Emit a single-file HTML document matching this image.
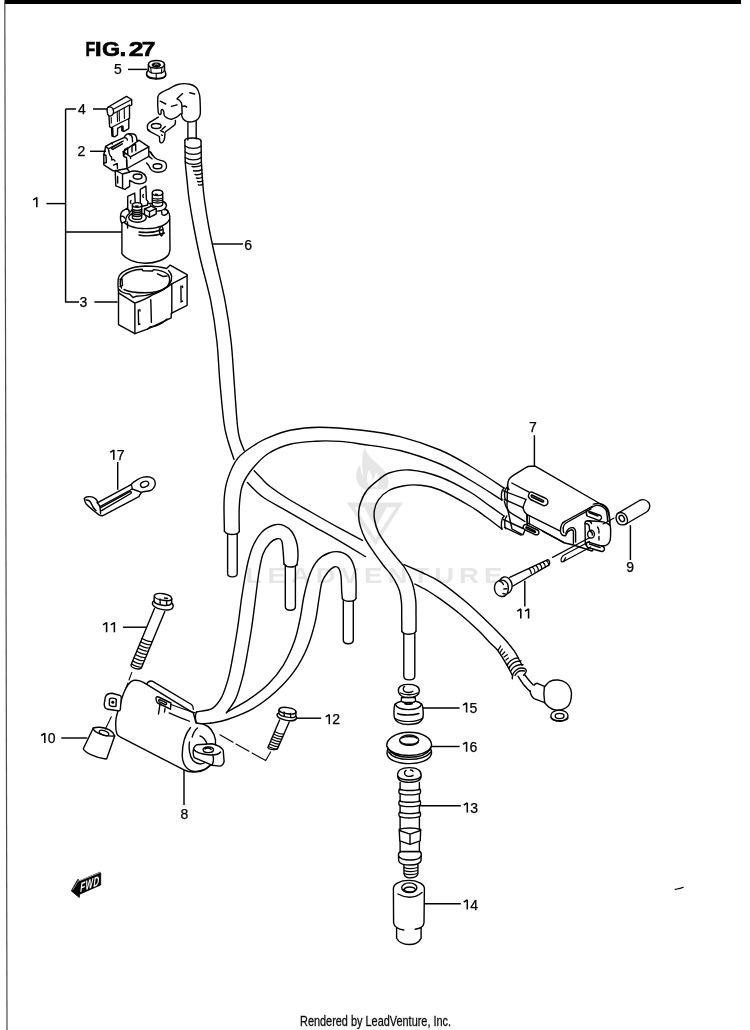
<!DOCTYPE html>
<html><head><meta charset="utf-8">
<style>
html,body{margin:0;padding:0;background:#fff;}
body{width:750px;height:1030px;overflow:hidden;position:relative;}
svg{position:absolute;left:0;top:0;will-change:transform;}
.l{fill:none;stroke:#000;stroke-width:1.4;stroke-linecap:round;stroke-linejoin:round;}
.w{fill:#fff;stroke:#000;stroke-width:1.4;stroke-linejoin:round;stroke-linecap:round;}
.b{fill:#000;stroke:#000;stroke-width:0.6;stroke-linejoin:round;}
.t{font-family:"Liberation Sans",sans-serif;font-size:14px;fill:#000;stroke:#000;stroke-width:0.25;}
.ld{fill:none;stroke:#000;stroke-width:1.45;}
</style></head><body>
<svg width="750" height="1030" viewBox="0 0 750 1030">
<rect x="4.5" y="0" width="736.5" height="4" fill="#000"/>
<line x1="4.8" y1="2" x2="7" y2="1030" stroke="#4a4a4a" stroke-width="1.2"/>
<g id="wm" fill="#e6e6e6">
<text x="0" y="0" transform="translate(245.6 583) scale(1.25 1)" font-family="Liberation Sans" font-size="22" font-weight="bold" textLength="205.4" lengthAdjust="spacing">LEADVENTURE</text>
<path d="M364.8,447.2 C366,455 375,461 382,468 C388,474 390.5,483 386.4,489.2 L363.6,489.2 C358,486 355.5,479 356.4,473 C357,469 358.5,466 360.5,464.5 C360,469 361,473 363.5,476.5 C361.5,467 361.5,456 364.8,447.2 Z M369,470 C366,476 366.5,482 369.5,487 L377,487 C380,482 379.5,476 375.5,472 C375.5,476 374,479 372,480 C372.5,477 371.5,473 369,470 Z" fill-rule="evenodd"/>
<path d="M346.8,502.4 L403.2,502.4 L375.6,545.6 Z M354.5,507 L364,507 L375.6,528 L387,507 L396,507 L375.6,538.5 Z" fill-rule="evenodd"/>
</g>
<g id="cable6">
<path class="l" d="M187.9,121.8 L187.9,140.1" />
<path class="l" d="M196.2,121.4 L196.2,138.8" />
<path class="l" d="M184.8,140.6 C184.9,142.5 185.0,148.4 185.1,152.0 C185.2,155.6 185.0,157.8 185.3,162.4 C185.6,167.1 186.3,173.6 187.0,179.9 C187.7,186.2 188.0,192.0 189.2,200.0 C190.4,208.0 192.1,218.0 194.0,228.0 C195.9,238.0 197.8,247.9 200.6,260.0 C203.4,272.1 208.0,287.1 210.7,300.7 C213.4,314.3 215.4,327.9 216.9,341.5 C218.4,355.1 218.7,368.6 219.9,382.2 C221.1,395.8 222.7,413.4 224.0,423.0 C225.3,432.6 226.0,433.9 227.7,440.0 C229.4,446.1 232.9,456.2 234.0,459.4" />
<path class="l" d="M201.0,141.0 C201.0,142.8 201.1,148.4 201.2,152.0 C201.3,155.6 201.1,157.0 201.4,162.4 C201.7,167.8 202.3,177.9 202.8,184.2 C203.3,190.5 203.5,192.7 204.5,200.0 C205.5,207.3 207.1,218.0 209.0,228.0 C210.9,238.0 213.1,247.9 215.8,260.0 C218.5,272.1 222.4,287.1 225.0,300.7 C227.6,314.3 229.6,327.9 231.1,341.5 C232.6,355.1 233.2,368.6 234.2,382.2 C235.2,395.8 236.3,413.7 237.2,423.0 C238.1,432.3 238.3,433.4 239.5,438.0 C240.7,442.6 243.4,448.4 244.2,450.5" />
<path class="l" d="M184.8,140.6 C185,137 200.5,137 201,141" />
<path class="l" d="M185,146 C190,149.2 197,149.2 201.2,146" />
<path class="l" d="M185.2,152 C190,155.2 197,155.2 201.4,152" />
<path class="l" d="M185.2,157.5 C190,160.7 197,160.7 201.4,157.5" />
<path class="l" d="M185.2,162 C190,165.2 197,165.2 201.4,162" />
<path class="l" d="M192,166.5 Q196.8,167.4 201.6,165.4" />
<path class="l" d="M193.5,170.8 Q197.7,171.70000000000002 201.9,169.6" />
<path class="l" d="M195,174.5 Q198.6,175.4 202.2,173.4" />
<path class="l" d="M196.5,178 Q199.5,178.9 202.5,177" />
<path class="l" d="M197.5,181.5 Q200.1,182.4 202.7,180.8" />
<path class="l" d="M198.5,184.8 Q200.7,185.70000000000002 202.9,184.2" />
<path class="l" d="M254.2,470.8 C255.4,472.1 259.1,476.0 261.7,478.6 C264.3,481.2 265.8,483.3 270.0,486.5 C274.2,489.7 279.8,493.7 286.7,498.0 C293.6,502.3 303.4,507.7 311.7,512.5 C320.0,517.3 328.2,522.0 336.7,526.6 C345.1,531.2 358.1,538.1 362.4,540.4" />
<path class="l" d="M247.5,482.5 C248.8,483.8 252.1,487.6 255.0,490.3 C257.9,493.0 259.7,495.1 265.0,498.5 C270.3,501.9 278.9,506.3 286.7,510.8 C294.5,515.3 303.4,520.5 311.7,525.3 C320.0,530.0 327.7,534.1 336.7,539.3 C345.7,544.5 360.7,553.7 365.5,556.6" />
<path class="l" d="M404.0,564.7 C407.0,566.0 416.0,569.6 422.0,572.5 C428.0,575.4 433.1,577.2 440.0,581.8 C446.9,586.4 456.3,593.9 463.7,600.0 C471.1,606.1 477.8,612.5 484.3,618.7 C490.8,624.9 497.9,632.0 502.9,637.3 C507.8,642.6 511.3,646.9 514.0,650.7 C516.7,654.5 518.0,657.6 519.3,660.0 C520.6,662.4 521.5,664.4 522.0,665.3" />
<path class="l" d="M414.8,584.0 C417.0,585.2 423.8,588.5 428.0,591.0 C432.2,593.5 434.7,595.1 440.0,598.9 C445.3,602.7 453.6,608.7 460.0,614.0 C466.4,619.3 473.7,626.0 478.7,630.8 C483.7,635.6 486.8,639.4 490.0,642.7 C493.2,646.0 495.6,647.6 498.0,650.7 C500.4,653.8 502.7,658.0 504.7,661.3 C506.7,664.6 508.7,668.2 510.0,670.7 C511.3,673.2 512.2,675.1 512.7,676.0" />
<path class="l" d="M498,650.3 L500.7,646" style="stroke-width:1.25"/>
<path class="l" d="M500.3,652.3 L502.3,649" style="stroke-width:1.25"/>
<path class="l" d="M502.3,654.7 L504.7,652" style="stroke-width:1.25"/>
<path class="l" d="M504,657 L507.3,654.7" style="stroke-width:1.25"/>
<path class="l" d="M506,660 L508.3,658" style="stroke-width:1.25"/>
<path class="l" d="M507.3,665.3 C508,663 509,662 510.3,661 C512,659.5 513.5,658.8 515,658.3 C516,658 517,658 518.3,658" />
<path class="l" d="M509,668.3 C509.8,666 511,664.8 512.3,663.7 C514,662.3 516,661.6 517.7,661.3 C519,661 520,661 521,661" />
<path class="l" d="M510.7,671.3 C511.5,669.2 512.8,667.8 514.3,666.7 C516,665.5 518,664.9 519.7,664.7 C521,664.6 522,664.6 523,664.7" />
<path class="l" d="M512.3,678.7 C512.2,677 512.4,675.3 513,674 C513.8,672.3 515,671 516.3,670 C517.8,668.8 519.5,668.1 521,668 C522.5,667.9 524,668.1 525,668.7 C526,669.4 526.5,670.3 526.3,671.3 C526.2,672.4 525.3,673.5 523.7,675.3" />
<path class="l" d="M515,675.3 C515.8,674 516.7,672.8 517.7,672 C519,671.1 520.3,670.7 521.7,670.7 C522.7,670.7 523.6,670.8 524.3,671" />
<path class="l" d="M518.0,676.2 C518.5,676.9 519.8,679.1 520.8,680.5 C521.8,681.9 522.7,683.4 523.7,684.7 C524.7,686.0 525.8,687.1 526.8,688.2 C527.8,689.3 529.5,690.8 530.0,691.3" />
<path class="l" d="M524.3,674.2 C524.6,674.6 525.4,675.8 526.0,676.5 C526.6,677.2 527.0,677.8 527.7,678.7 C528.4,679.6 529.4,680.8 530.3,681.8 C531.2,682.8 532.5,684.2 533.0,684.7" />
<path class="w" d="M544.7,686.7 C545.6,685.8 547.8,682.4 550.0,681.3 C552.2,680.2 555.3,679.8 558.0,680.0 C560.7,680.2 563.9,681.2 566.0,682.7 C568.1,684.2 569.8,686.9 570.7,689.3 C571.6,691.7 571.6,694.6 571.3,697.3 C571.0,700.0 570.1,703.3 568.7,705.3 C567.3,707.3 564.9,708.5 562.7,709.3 C560.5,710.1 557.5,710.3 555.3,710.0 C553.1,709.7 551.1,708.5 549.3,707.3 C547.5,706.1 545.5,703.5 544.7,702.7" />
<path class="l" d="M530,690.7 C530.5,694 531.5,697 534,698.7 L544.7,702.7 M534,685.3 C535,684 536,683.2 537.3,683.3 L544.4,686.4 M544.4,686.4 C543.5,692 543.8,698 544.7,702.7" />
<ellipse class="l" cx="559.4" cy="715.7" rx="8.6" ry="5.6" />
<ellipse class="l" cx="559.6" cy="716" rx="4.4" ry="2.6" />
<path class="l" d="M551,717.5 C552,721.5 566,722 568,718" />
</g>
<g id="cableB">
<path class="l" d="M224.4,531.2 C224.4,525.8 223.6,507.5 224.2,498.7 C224.8,489.9 225.6,485.2 227.9,478.4 C230.2,471.6 233.3,463.8 237.9,458.1 C242.5,452.4 250.2,447.8 255.6,444.3 C260.9,440.8 264.3,439.4 270.0,437.0 C275.7,434.6 281.9,431.8 290.0,430.2 C298.1,428.6 306.9,427.2 318.9,427.2 C330.9,427.2 348.5,428.7 362.0,430.3 C375.5,431.9 387.0,433.3 400.0,436.6 C413.0,439.9 428.3,445.1 440.0,450.0 C451.7,454.9 459.3,459.7 470.0,466.0 C480.7,472.3 498.3,484.3 504.0,488.0" />
<path class="l" d="M239.3,531.6 C239.3,527.4 238.8,513.9 239.3,506.3 C239.8,498.7 240.1,492.1 242.2,486.0 C244.3,479.9 247.5,474.9 251.8,469.5 C256.2,464.1 261.9,457.7 268.3,453.5 C274.7,449.3 282.1,446.2 290.0,444.2 C297.9,442.1 307.7,441.7 316.0,441.2 C324.3,440.7 332.3,440.9 340.0,441.4 C347.7,441.9 352.0,442.7 362.0,444.2 C372.0,445.7 387.0,447.2 400.0,450.5 C413.0,453.8 428.3,459.1 440.0,464.0 C451.7,468.9 459.7,474.0 470.0,480.0 C480.3,486.0 496.7,496.7 502.0,500.0" />
<path class="l" d="M224.4,531.2 C225.5,533 228.5,534.4 231.6,534.5 C234.8,534.5 238,533.5 239.3,531.6" />
<path class="l" d="M227.6,534.2 L227.6,573.5 C227.6,578 237.2,578 237.2,573.5 L237.2,534" />
</g>
<g id="cableC">
<path class="l" d="M504.0,516.0 C501.2,514.0 492.7,508.0 487.0,504.0 C481.3,500.0 477.8,496.5 470.0,492.0 C462.2,487.5 450.0,480.7 440.0,477.0 C430.0,473.3 418.5,470.7 410.0,470.0 C401.5,469.3 394.3,471.3 389.0,473.0 C383.7,474.7 382.1,477.1 378.4,480.0 C374.7,482.9 369.8,486.6 366.8,490.5 C363.8,494.4 361.8,499.2 360.4,503.3 C359.0,507.4 358.6,511.0 358.6,514.9 C358.6,518.8 359.2,522.5 360.4,526.6 C361.6,530.7 363.4,535.1 365.6,539.4 C367.8,543.7 370.9,547.9 373.8,552.2 C376.7,556.5 380.0,560.9 383.1,565.0 C386.2,569.1 389.7,572.4 392.4,576.7 C395.1,581.0 397.9,586.2 399.4,590.6 C400.9,595.0 401.1,598.6 401.5,603.0 C401.9,607.4 401.6,612.3 401.7,617.0 C401.8,621.7 401.8,628.7 401.8,631.0" />
<path class="l" d="M502.0,529.0 C499.3,527.0 491.3,520.8 486.0,517.0 C480.7,513.2 477.7,510.5 470.0,506.0 C462.3,501.5 448.3,493.5 440.0,490.0 C431.7,486.5 426.0,485.9 420.0,485.2 C414.0,484.5 409.2,484.9 404.0,485.8 C398.8,486.7 393.2,488.2 388.9,490.5 C384.6,492.8 380.8,496.5 378.4,499.8 C376.0,503.1 375.0,506.9 374.4,510.3 C373.8,513.7 373.9,516.3 374.6,520.0 C375.3,523.7 376.4,528.2 378.4,532.4 C380.4,536.6 383.7,541.1 386.6,545.2 C389.5,549.3 392.8,553.0 395.9,556.9 C399.0,560.8 402.5,564.2 405.2,568.5 C407.9,572.8 410.4,577.3 412.2,582.5 C413.9,587.7 415.1,594.5 415.7,599.9 C416.3,605.3 415.9,609.8 416.0,615.0 C416.1,620.2 416.0,628.3 416.0,631.0" />
<path class="l" d="M401.8,631.3 C403,633.3 406.3,634.2 409,634.2 C412,634.2 415,633.3 416,631.3" />
<path class="l" d="M403.8,633.8 L403.8,676 C403.8,681.2 414.8,681.2 414.8,676 L414.8,633.8" />
</g>
<g id="hooks">
<path class="l" d="M196.5,712.0 C197.3,711.9 198.5,711.7 201.2,711.1 C203.8,710.5 209.0,710.6 212.4,708.3 C215.8,706.0 219.0,702.1 221.7,697.1 C224.3,692.1 226.4,685.2 228.3,678.4 C230.2,671.5 231.4,664.4 232.9,656.0 C234.4,647.6 236.2,637.3 237.6,628.0 C239.0,618.7 240.2,608.0 241.3,600.0 C242.5,592.0 243.4,586.3 244.5,580.0 C245.6,573.7 246.6,567.7 248.0,562.0 C249.4,556.3 250.7,551.0 253.0,546.0 C255.3,541.0 258.5,535.5 262.0,532.0 C265.5,528.5 270.3,526.1 274.0,525.0 C277.7,523.9 281.0,524.4 284.0,525.6 C287.0,526.8 289.8,528.9 292.0,532.0 C294.2,535.1 296.0,540.0 297.0,544.0 C298.0,548.0 298.0,552.5 298.0,556.0 C298.0,559.5 297.2,563.5 297.0,565.0" />
<path class="l" d="M226.4,712.9 C227.9,710.6 233.0,704.6 235.7,698.9 C238.3,693.1 240.4,685.5 242.3,678.4 C244.2,671.2 245.4,664.4 246.9,656.0 C248.4,647.6 250.2,637.3 251.6,628.0 C253.0,618.7 254.1,609.3 255.3,600.0 C256.5,590.7 257.7,579.7 259.0,572.0 C260.3,564.3 261.2,558.8 263.0,554.0 C264.8,549.2 267.7,545.5 270.0,543.0 C272.3,540.5 275.1,539.2 277.0,538.8 C278.9,538.4 280.5,538.6 281.5,540.5 C282.5,542.4 282.6,546.1 283.0,550.0 C283.4,553.9 283.8,561.7 284.0,564.0" />
<path class="l" d="M284,564 C285.5,566 288,567 290.5,567 C293.5,567 296,566 297,564.5" />
<path class="l" d="M285.3,566.5 L285.3,606.5 C285.3,611.5 295.4,611.5 295.4,606.5 L295.4,566.3" />
<path class="l" d="M227.3,712.0 C231.0,709.8 242.8,703.6 249.7,698.9 C256.5,694.2 262.8,689.6 268.4,684.0 C274.0,678.4 278.9,672.4 283.3,665.3 C287.7,658.1 291.7,648.9 294.5,641.1 C297.3,633.3 298.5,626.2 300.1,618.7 C301.7,611.2 302.4,603.5 304.0,596.0 C305.6,588.5 307.7,580.0 310.0,574.0 C312.3,568.0 314.8,563.5 318.0,560.0 C321.2,556.5 325.3,554.3 329.0,553.0 C332.7,551.7 336.5,551.2 340.0,552.0 C343.5,552.8 347.5,555.0 350.0,558.0 C352.5,561.0 354.0,566.0 355.0,570.0 C356.0,574.0 355.8,577.3 356.0,582.0 C356.2,586.7 356.0,595.3 356.0,598.0" />
<path class="l" d="M210.5,723.2 C213.3,722.6 220.1,722.0 227.3,719.5 C234.5,717.0 245.4,713.0 253.5,708.3 C261.6,703.6 269.1,697.7 275.9,691.5 C282.7,685.3 289.2,678.4 294.5,670.9 C299.8,663.4 304.2,654.8 307.6,646.7 C311.0,638.6 313.2,630.2 315.1,622.4 C317.0,614.6 317.7,606.7 318.8,600.0 C319.9,593.3 320.5,586.7 322.0,582.0 C323.5,577.3 326.0,574.5 328.0,572.0 C330.0,569.5 332.2,567.7 334.0,567.0 C335.8,566.3 337.3,566.5 338.5,568.0 C339.7,569.5 340.5,572.3 341.0,576.0 C341.5,579.7 341.4,586.2 341.6,590.0 C341.8,593.8 342.3,597.5 342.4,599.0" />
<path class="l" d="M342.3,598.5 C343.5,600.5 346.5,601.3 349,601.3 C352,601.3 355,600.5 356,598.5" />
<path class="l" d="M343.3,600.6 L343.3,640 C343.3,645 353.3,645 353.3,640 L353.3,600.6" />
<path class="l" d="M196.5,712 C195,715 194.8,721 197.5,724.1 L210.5,723.2" />
</g>
<g id="cap6">
<path class="w" d="M158.3,117.1 L149.3,122.7 C148,123.8 147.4,125 147.4,125.9 C147.3,127.5 147.4,128.6 147.7,129.6 C148.2,130.4 148.7,130.9 149.3,131.2 L159.4,136.5 L159.7,141.3 C160,142.3 160.5,142.8 161,142.9 C161.8,143 162.6,142.6 163.1,141.9 C164,140.5 164.5,139 164.7,137.6 L165,132.3 L174.9,124.8 C175.4,123.5 175.5,122 175.4,120.5" />
<ellipse class="l" cx="156.2" cy="126" rx="4.8" ry="2.5" />
<path class="l" d="M160.5,130.6 L163.6,132.2 M162,129.6 L165.3,126.4 M161.5,135 L162.4,135.3" />
<path class="l" d="M148.2,129.5 L149.8,130.4" style="stroke-width:1"/>
<path class="w" d="M158.2,112.0 C157.9,109.3 157.6,101.4 157.8,98.4 C158.0,95.4 157.6,95.6 159.5,94.0 C161.4,92.4 165.8,90.4 169.0,88.8 C172.2,87.2 175.1,85.0 178.6,84.2 C182.1,83.4 186.9,83.6 189.8,84.2 C192.7,84.8 194.6,85.9 196.2,87.6 C197.8,89.3 198.7,91.7 199.4,94.4 C200.1,97.1 200.1,100.7 200.2,104.0 C200.3,107.3 200.6,111.9 200.2,114.4 C199.8,116.9 199.0,118.0 197.8,119.2 C196.6,120.4 194.7,121.2 193.0,121.6 C191.3,122.0 189.0,122.0 187.4,121.6 C185.8,121.2 184.3,120.1 183.4,119.2 C182.5,118.3 182.2,116.9 181.8,116.0 C181.4,115.1 181.8,113.5 181.0,113.6 C180.2,113.7 178.6,115.9 177.0,116.8 C175.4,117.7 173.1,119.1 171.4,119.2 C169.7,119.3 167.8,118.3 166.6,117.6 C165.4,116.9 164.7,116.2 164.2,115.2 C163.7,114.2 164.1,112.5 163.8,111.6 C163.5,110.7 163.0,109.8 162.6,109.6 C162.2,109.4 161.5,109.7 161.2,110.4 C160.9,111.1 161.3,112.9 161.0,113.6 C160.7,114.3 160.1,114.7 159.6,114.4 C159.1,114.1 158.5,114.7 158.2,112.0 Z" />
<path class="l" d="M177,98.8 L182.6,93.6 M177,98.8 C179.5,100 181.5,102 181.8,104.5 L182.2,113.6" />
<path class="l" d="M160.2,101.2 L165.8,104 M171.4,106.4 L177,104.8 M189.8,92.8 L194.6,94 M182.6,106.4 C184,105.8 185.8,106 186.6,107" />
</g>
<g id="nut5" stroke-width="1.5">
<path class="w" d="M146.6,74 C146,79.5 166,80.5 165.8,74.5 C165.8,72 164.5,70.5 164.5,70 L164.5,64.5 C164.5,59 148.4,59 148.4,64.5 L148.4,70 C147.2,71 146.6,72.5 146.6,74 Z" style="stroke-width:1.5"/>
<path class="l" d="M148.4,64.6 C148.4,69.5 164.5,69.5 164.5,64.6" style="stroke-width:1.4"/>
<path class="l" d="M148.4,70 C149,74.5 164,74.5 164.5,70" style="stroke-width:1.3"/>
<path class="l" d="M146.8,75.5 C148,78 152,79 155.5,79 M157.5,79 C161,79 164.5,78 165.6,75.5" style="stroke-width:1.2"/>
<path class="l" d="M150.8,68 L151.2,73 M161.8,68.2 L161.4,73.2 M156.2,74 L156.2,79.5" style="stroke-width:1.1"/>
<ellipse class="b" cx="156.3" cy="65" rx="4.3" ry="2.3" />
<path class="l" d="M154.5,65 C155.5,63.5 157.5,63.5 158.3,65" style="stroke:#fff;stroke-width:0.8;fill:none"/>
</g>
<g id="fuse4" stroke-width="1.4">
<path class="w" d="M109,116 L109.6,126.8 L111.5,127.6 L112,136 L114.5,136.8 L117.5,135 L117.6,128.4 L121.8,126 L121.8,130.5 L124,131.3 L128.8,128.6 L128.8,118.8 L129.5,118.2 L129.5,106 L131.8,104.8 L131.6,99.5 L126.5,96.4 L108.2,107 C106.5,108 106.8,114.5 109,116 Z" style="stroke-width:1.4"/>
<path class="l" d="M108.3,107.2 C110.5,106 113.5,108 113.6,111.5 C113.6,114.5 111.5,116.5 109,116" style="stroke-width:1.3"/>
<path class="l" d="M113.3,109.2 L131.6,99.5 M113.6,113.5 L129.5,105" style="stroke-width:1.2"/>
<path class="l" d="M117.2,112 L117.5,121.5 M119.2,111 L119.4,121 M124.2,108.2 L124.4,118.5" style="stroke-width:1.1"/>
<path class="l" d="M111.5,127.6 L121.8,122 L128.8,118.8 M111.2,117.5 L111.3,123" style="stroke-width:1.1"/>
<path class="l" d="M112.5,128 L112.8,135.6 M122.8,126.5 L122.9,130.8" style="stroke-width:1.8"/>
</g>
<g id="part2">
<path class="w" d="M146,150 L150.5,152.2 L154.5,157.5 C157,160 160.5,160.3 163.5,161.2 C167,162.5 167.5,167.5 165,170 C162,172.8 155.5,173 152,170.5 C150,169 149.5,167 148.8,165.5 L146.5,163" />
<ellipse class="l" cx="157.5" cy="166.2" rx="4.4" ry="2.5" />
<path class="l" d="M150.5,152.2 L152.5,155.5 M148.8,156.4 L152,158.8" />
<path class="w" d="M105.6,146.4 L112,142.8 L124,137.6 L125.6,135.2 C126.5,134.3 127.5,133.8 128.8,133.6 L133.6,134 C134.8,134.6 135.6,135.2 136,136 L136.8,138.8 L136.8,140.4 L139.2,140.4 L148.8,146.8 L148.8,156.4 L127,168.5 L126.8,170.6 L113.2,170.8 L103.8,164.8 L103.8,154.5 L104.8,150.8 Z" />
<path class="l" d="M105.6,146.4 L108.4,148.8 L123.2,141 M108.4,148.8 L108.8,151 M112,142.8 L112.3,144" />
<path class="l" d="M112,147.6 L121.6,142 M112.8,149.4 L122.4,143.8 M112,147.6 C111.4,148.2 111.8,149.4 112.8,149.4" />
<path class="l" d="M124.4,137.6 C126,137.6 127.2,138.6 127.4,140 M129,134.3 C131,134.8 132,136 132.3,137.5 L132.5,141.8" />
<path class="l" d="M123.2,151.6 L137.6,141.2 L139.2,140.4 M123.2,151.6 L130.4,156.8 L148.8,146.8" />
<path class="l" d="M124.5,151.3 L124.6,155 M124.6,149.5 L127.6,147.8 L127.8,154.2 M131.8,146.2 L135.6,144 L135.8,150.8 M132,146.2 L132,152" />
<path class="l" d="M108.8,151 C109.2,154 110.5,156.5 111.5,157 L111.8,160 M111.8,160 C113,159 114.5,159.5 115,161 M123.2,151.6 L123.5,156 C124.5,157 125.5,157.5 126.5,157.3 L127,168.5 M130.4,156.8 L130.6,158.5" />
<path class="l" d="M126.6,160 L126.8,166" />
<path class="l" d="M103.8,154.5 L106,155.5 L106.3,162.5 L104,163.2" />
<path class="l" d="M113.5,165.2 L117.2,163.5 L117.5,168.3" />
<path class="w" d="M115.2,170.8 L115.8,185.8 L124.8,189.4 L129.6,186.4 L129.6,180.4 L132,181.5 C135,184 142,185 145.2,182 C147.5,179.5 146.2,174.5 141.5,172.5 C137.5,170.5 132,170.5 129.6,172 L127,168.5 Z" />
<ellipse class="l" cx="137.6" cy="176.6" rx="4.4" ry="2.6" />
<path class="l" d="M116.5,170.8 L122.5,174 L129.6,172 M122.5,174 L122.6,188.6 M117.6,176.5 L117.7,183" />
</g>
<g id="relay1">
<path class="w" d="M121.9,253.7 L121.9,216 C122.5,208.5 133,203.2 145.8,203.2 C158.5,203.2 169.2,208.5 169.7,216 L170,249.3 C169.7,251.5 169.3,253 168.7,254.5 C165,259.5 156,263.3 145.3,263.3 C135,263.3 125,258.5 121.9,253.7 Z" />
<path class="l" d="M121.9,219 C124,225 134,228.6 145.8,228.6 C157.5,228.6 167.5,225 169.7,219" />
<path class="l" d="M139,232 C146,233 156,232 163,229.5 M139,235 C146,236.5 156,235.8 164.5,233" />
<path class="l" d="M160.5,227 C158.5,229 159.5,235 161.5,236 C163.5,234.5 164,229 162,226.5" />
<path class="l" d="M127.5,222 L127.6,228" />
<path class="w" d="M150.5,205 C151,209.5 155,211.5 159,211 C163,210.5 166,208.5 166.5,205.5 C166,203 164,201.8 162.7,201.5" />
<path class="l" d="M161.5,210.8 L162,214.5 C163.5,215.5 166,215 167.5,213.5 L167.9,210.8 C167,209.5 165.5,209.3 164.5,209.8" />
<path class="w" d="M152.3,204 L152.3,193 C152.3,189 162.7,189 162.7,193 L162.7,204 C162.7,207.5 152.3,207.5 152.3,204 Z" />
<path class="l" d="M152.3,193 C152.3,196.5 162.7,196.5 162.7,193 M155.5,194.3 L157.5,194.5" />
<path class="l" d="M152.4,198 C155,199.4 160,199.4 162.6,198" />
<path class="l" d="M152.4,200 C155,201.4 160,201.4 162.6,200" />
<path class="l" d="M152.4,202 C155,203.4 160,203.4 162.6,202" />
<path class="w" d="M140.3,203.5 L140.3,189.3 L145.9,186.1 L146.4,199.6 L148,201.5 L147.5,205 L141.5,206.5 Z" />
<path class="l" d="M143.3,194.5 C142.6,195.3 142.6,196.8 143.4,197.3" />
<path class="w" d="M127.7,210 L127.7,196.3 L134.7,193.1 L135.2,203.3 L136,206 L130,212 Z" />
<path class="l" d="M131,200.5 C130.2,201.3 130.2,202.8 131,203.3" />
<path class="w" d="M121.7,223 C120.5,221 120.3,217 120.8,214 C121.5,211.5 123.5,210 126,209.2 L128.7,209.6 L129.5,213.5 C127,215 125.5,218 125.8,221.5 Z" />
<path class="l" d="M121,216.5 C122.5,216 124,216.5 124.6,218" />
<path class="w" d="M144.5,209 L151.3,206.1 L156.2,208.7 L156.2,214 L149.5,217.3 L144.5,214.5 Z" />
<path class="l" d="M144.5,209 L149.5,211.7 L156.2,208.7 M149.5,211.7 L149.5,217.3" />
<ellipse class="w" cx="137.5" cy="217.5" rx="8.8" ry="4.8" />
<path class="w" d="M132.4,217.5 L132.4,205 C132.4,201.8 141.7,201.8 141.7,205 L141.7,217.5 C141.7,220 132.4,220 132.4,217.5 Z" />
<path class="l" d="M132.4,205 C132.4,208 141.7,208 141.7,205 M135.8,206 L138,206.2" />
<path class="l" d="M132.5,209.5 C135,210.7 139,210.7 141.6,209.5" />
<path class="l" d="M132.5,211.5 C135,212.7 139,212.7 141.6,211.5" />
<path class="l" d="M132.5,213.5 C135,214.7 139,214.7 141.6,213.5" />
<path class="l" d="M132.5,215.5 C135,216.7 139,216.7 141.6,215.5" />
</g>
<g id="holder3">
<path class="w" d="M118.5,291.7 L118.5,324.6 L134.9,333.7 L147.4,329.2 L171.2,317.8 L171.2,313.3 L187.1,305.4 L187.1,274.7 L170.1,265.1 L166.7,268.5 C160,266.5 152,266 145,266 C130,266.5 119,272 118.2,279 C117.8,283 118,288 118.5,291.7 Z" />
<path class="l" d="M118.5,292.9 L134.9,303.1 L134.9,333.7 M134.9,303.1 C142,300.5 148,298 152,295.1 C160,292 167,288 171.8,283.8 L171.8,313 M171.8,283.8 L187.1,275.9" />
<path class="l" d="M118.6,289 C121,292 126,294 129.5,294 L133,297.5 L136,296.3 C150,296 164,291 169.5,284 C173,279 172,273.5 168.5,270.5" />
<path class="l" d="M121.5,288 C119.5,284 120,279 123.5,275.5 C128,271.5 135,269.5 142,269.2 L143,270.8 L152.5,271 L153.5,269.6 C160,270 165,272 168,274.5 C170.5,278 170,283 167.5,286.5 C163,290.5 154,292.8 145,292.8 C136,292.8 128,291.5 124,289.5" />
<path class="l" d="M120,279.5 L122,279 L122.5,285.5 L120,286.5" />
<path class="l" d="M157.5,273.8 L163,276.5 L167,276" />
<path class="l" d="M138.3,309.9 L138.6,324.6 L140,324 M140,311 L139.8,309.5 M180.9,286.1 L181.1,302 L182.6,301.2 M182.6,287.5 L182.4,286" />
<path class="l" d="M150.8,299.7 L151.4,322.4" />
<path class="l" d="M147.4,329.2 L150,327 C156,326.5 163,323 167,319" />
</g>
<g id="clamp17">
<path class="w" d="M84.3,498.5 C85.5,497 86.5,496.7 87.7,496.7 C90,496.5 92.3,496.8 93.8,497.6 C95.5,498.5 96.8,499.8 97.3,501.1 L97.3,502.8 L131.1,484.6 C132.5,482.5 134.5,481.3 136.3,480.3 C138.5,478.8 140.8,477.6 143.2,477.1 C145.5,476.7 148,476.7 150.1,477.1 C152.3,477.8 153.8,478.8 154.5,480.3 C155.3,482 155.4,483.8 155,485.5 C154.3,487.3 153.2,488.8 151.9,489.8 C150,490.8 147.5,491.3 144.9,491.5 C143.5,491.7 142.3,492 141.5,492.4 C140.3,493.5 139.5,495 138.9,496.7 L102.5,515.8 C101.3,515.8 100,515.5 99,514.9 L94.7,511.5 C91.5,509 88.5,506.5 86,503.7 C85,502 84.4,500.3 84.3,498.5 Z" />
<path class="l" d="M131.1,484.6 C132,486 132.3,487.5 132.3,489 L141.5,492.4" />
<path class="l" d="M132.3,489 L100,506.5 C99,505 98.2,503.8 97.3,502.8" />
<path class="l" d="M100.7,507.6 L130.2,491.4 C131.3,491.2 131.6,493 130.8,493.5 L101.6,510.6" />
<path class="l" d="M86,500 C88.5,499.8 90.5,501.5 91.5,504 C92.5,506.5 94,509 96,510.5" />
<path class="l" d="M100,506.5 L100.6,513.5" />
<ellipse class="l" cx="144.6" cy="484.3" rx="4.2" ry="2.8" transform="rotate(-20 144.6 484.3)" />
</g>
<g id="bolt11a">
<path class="w" d="M154.5,608.6 L131,665 C130.5,667.5 138.5,670.5 141.3,668 L164.8,611.5" />
<path class="l" d="M142.0,638.5 C145.0,640.1 149.3,642.1 152.3,641.5" style="stroke-width:1.1"/>
<path class="l" d="M140.7,641.7 C143.7,643.3 148.0,645.3 151.0,644.7" style="stroke-width:1.1"/>
<path class="l" d="M139.4,644.9 C142.4,646.5 146.7,648.5 149.7,647.9" style="stroke-width:1.1"/>
<path class="l" d="M138.0,648.1 C141.0,649.7 145.3,651.7 148.3,651.1" style="stroke-width:1.1"/>
<path class="l" d="M136.7,651.3 C139.7,652.9 144.0,654.9 147.0,654.3" style="stroke-width:1.1"/>
<path class="l" d="M135.4,654.5 C138.4,656.1 142.7,658.1 145.7,657.5" style="stroke-width:1.1"/>
<path class="l" d="M134.0,657.7 C137.0,659.3 141.3,661.3 144.3,660.7" style="stroke-width:1.1"/>
<path class="l" d="M132.7,660.9 C135.7,662.5 140.0,664.5 143.0,663.9" style="stroke-width:1.1"/>
<path class="l" d="M131.4,664.1 C134.4,665.7 138.7,667.7 141.7,667.1" style="stroke-width:1.1"/>
<path class="w" d="M152.5,603 C151,608.5 171,613 173,607 C173.5,605 172.5,603.5 171.5,603 L171.8,599 C172,594 155,591 154.3,596 L154,601 C153,601.5 152.6,602.2 152.5,603 Z" />
<path class="l" d="M154,601 C155,605 170,607.5 171.5,603" />
<path class="l" d="M154.3,596 C155,600 170.5,602.5 171.8,599" />
<path class="l" d="M160,599 L160.2,604 M166.5,601 L166.8,605" />
<path class="l" d="M164.5,598 L167.5,598.5" />
</g>
<path class="l" d="M131.8,672.4 L129,680 M128,683 L125.2,690" style="stroke-width:1.1"/>
<g id="pin10">
<path class="w" d="M93.3,728 L83.3,748.7 C84,752 95,758 106,759 L106.7,758.7 L114.7,736 C113,731 107,728 100,727.3 C97,727.2 95,727.3 93.3,728 Z" />
<path class="l" d="M93.3,728 C93,732 104,737 114.7,736" />
<ellipse class="l" cx="104" cy="733" rx="5" ry="2.2" transform="rotate(20 104 733)" />
<path class="l" d="M105.3,729.3 L111.3,716.7" style="stroke-width:1.1"/>
</g>
<g id="coil8">
<path class="w" d="M146.7,684 C148,681.5 150.5,680.8 152.3,681.2 L191.5,704.5 C193,705.8 193.5,707.5 193.3,709.2" />
<path class="w" d="M135.5,680.3 C131.5,680 128,684.9 128,684.9 C124.5,690 122,697 120.5,703.6 C118,711 116,716 115.9,720.4 C115.5,726 116,731 116.8,733.5 C117.5,735.5 118.5,736.5 120.5,737.2 L184,769.9 C187,771.5 190,772 193,772 L199,771 C206,770 212,765 215,758 L215.5,740 C214,732 209,726 203,724 L196,723 L193.3,712.9 L174.7,701.7 L143.9,682.7 C141,681 138,680.2 135.5,680.3 Z" />
<path class="l" d="M190.5,727.5 C185.5,733.5 182.3,744 182.2,755.5 C182.3,763 186,769.5 193,771.3 C201,773.5 209.5,768.5 213,760" />
<path class="l" d="M189.5,742 C188.5,748 189.5,756 193,760.5 C196.5,764 201.5,765 206,762" />
<path class="l" d="M197.5,728 C195,730 193,734 192.2,737 M200,736 C202.5,736.5 206,740 207,744" />
<path class="w" d="M104.2,704 L105.3,697.3 C106,695 109,693.3 112,693.3 L119.5,695.2 C120.8,695.7 121.4,696.5 121.3,697.5 L120.3,709.5 C120,710.5 119,711 118,710.8 L108,709.3 C106,709 104.2,707 104.2,704 Z" />
<path class="l" d="M109.5,699 L109.3,704.5 C109.5,706 111.5,706.5 114,706.5 L116,706.3 L116.3,699.5 C115,698 111,697.5 109.5,699 Z" />
<ellipse class="b" cx="112.8" cy="702.3" rx="1.3" ry="1.2" />
<path class="w" d="M156,698 C156,697 157,696.5 158.5,697 L170.9,703 L170.5,709.2 L158.5,703.5 C156.5,702.5 156,700 156,698 Z" />
<path class="l" d="M159.5,699.6 L166,702.6 C167,703.6 166.5,705.2 165.3,704.6 L159.3,701.8 C158.3,701 158.6,699.4 159.5,699.6 Z" />
<path class="l" d="M170.9,704.5 C178,707 186,710 195.2,712.9 M169.1,712.9 C176,716 183,719 189.6,721.3" style="stroke-width:1.2"/>
<path class="l" d="M160,704 L158.5,714 M165,708.5 L164.5,712" />
<path class="w" d="M197,744.7 L212,743.7 C217.5,745 221.5,747 223.2,750.3 L224.1,761.5 C223.5,764 221.5,766 219.5,766.1 L212,765.2 L194.3,757.7 C193.3,755.5 193,752.5 193.3,750.3 C193.8,747 195,745.5 197,744.7 Z" />
<path class="l" d="M193.8,749.5 C196,752.5 204,754.5 210.5,755 C215,755.2 219,754 220.5,752 M212,765.2 C213.5,762 213.8,757.5 212.5,754.5" />
<ellipse class="w" cx="208.3" cy="749.8" rx="5.2" ry="2.8" />
<path class="l" d="M205,749 C206.5,747.5 210,747.8 211.2,749.5" />
</g>
<path class="l" d="M219.9,734.8 L233,742.2 M236,744 L249,751.2 M252,753 L265.7,760.4 L270.6,751.9" style="stroke-width:1.1"/>
<g id="bolt12">
<path class="w" d="M279.6,719.9 L267.9,747.6 C268.5,749.5 275.5,750.5 277.5,748.7 L289.2,722" />
<path class="l" d="M274.7,731.5 C277.7,732.9 280.9,734.6 283.9,734.1" style="stroke-width:1.1"/>
<path class="l" d="M273.6,734.0 C276.6,735.4 279.8,737.1 282.8,736.6" style="stroke-width:1.1"/>
<path class="l" d="M272.6,736.5 C275.6,737.9 278.7,739.6 281.7,739.1" style="stroke-width:1.1"/>
<path class="l" d="M271.5,739.0 C274.5,740.4 277.6,742.1 280.6,741.6" style="stroke-width:1.1"/>
<path class="l" d="M270.5,741.5 C273.5,742.9 276.5,744.6 279.5,744.1" style="stroke-width:1.1"/>
<path class="l" d="M269.4,744.0 C272.4,745.4 275.4,747.1 278.4,746.6" style="stroke-width:1.1"/>
<path class="l" d="M268.4,746.5 C271.4,747.9 274.3,749.6 277.3,749.1" style="stroke-width:1.1"/>
<path class="w" d="M277,714.5 C276.5,719 293,723.5 296.5,718.5 C296.8,717.5 296.3,716.5 295.8,716 L296,712 C296,708 280,705 279,710 L278.8,713.2 C277.8,713.6 277.1,714 277,714.5 Z" />
<path class="l" d="M278.8,713.2 C279.5,716.5 294,719.5 295.8,716 M279,710 C280,713.5 295,716 296,712" />
<path class="l" d="M284,712 L284.3,716.2 M290.5,713.5 L290.7,717.5" />
</g>
<g id="bolt11b">
<path class="w" d="M509.7,577.3 L547.3,559.8 C549.5,559.5 550.5,563.5 548.7,565.2 L513.1,586" />
<path class="l" d="M528.7,568.7 C530.5,569.9 531.4,572.2 531.3,573.9" style="stroke-width:1.1"/>
<path class="l" d="M532.2,567.1 C534.0,568.3 534.9,570.6 534.8,572.3" style="stroke-width:1.1"/>
<path class="l" d="M535.7,565.5 C537.5,566.7 538.4,569.0 538.3,570.7" style="stroke-width:1.1"/>
<path class="l" d="M539.2,563.8 C541.0,565.0 541.9,567.3 541.8,569.0" style="stroke-width:1.1"/>
<path class="l" d="M542.7,562.2 C544.5,563.4 545.4,565.7 545.3,567.4" style="stroke-width:1.1"/>
<path class="l" d="M546.2,560.6 C548.0,561.8 548.9,564.1 548.8,565.8" style="stroke-width:1.1"/>
<ellipse class="w" cx="505.6" cy="585.2" rx="6.4" ry="8.4" transform="rotate(-12 505.6 585.2)" />
<path class="w" d="M497.5,581.5 C500,579.8 503,580 505,581 L507.5,583.5 C508.5,586.5 508.5,591 507,594 C505.5,596 503,596.8 500.5,596.3 C497.5,595.5 495.2,593 494.6,589.5 C494.2,586 495.3,583 497.5,581.5 Z" />
<path class="l" d="M499.5,581 C501.5,581.5 502.8,582.8 503.5,584.5 M503.8,589 L506.8,588.8 M503,593.5 L505.5,594.2" />
</g>
<g id="conn7">
<path class="w" d="M507.6,484.9 L508.1,481.6 C508.5,479.5 510.5,477 513.7,475.1 L525.8,467.6 C527.5,466.6 529,466.2 530.5,466.2 L535.1,466.2 L600.6,504 C603.5,505 606.5,507.5 607.8,511.2 C608.8,514 609.8,518 609.8,522.7 L610.5,530 L592,551 L573.4,545 L563.9,542.7 L550,534.9 L528,523 L523,534.8 L512,529 L507,506 Z" />
<path class="l" d="M504,488 C501.5,490 500.5,496 502,500.3 M506.6,487.6 C504.3,489.8 503.8,496 505.5,499.8" />
<path class="l" d="M503.4,490.9 L525.8,499.3 M504.3,499.3 L523,507.7" />
<path class="l" d="M504,516.1 C501.5,518.5 500.6,525 502,529.2 M506.8,516 C504.5,518.5 504,524.8 505.7,528.8" />
<path class="l" d="M503.4,519.5 L523,528.5 M504.5,527.4 L521,535.2" />
<path class="l" d="M526,499.5 C524.5,502.5 523.5,505.5 523,507.7 C523.5,511 525,513 526.7,514.3 L527,524" />
<path class="l" d="M504.3,501 C505,505 506.5,508.5 509,511.5 C512,514 517,516.5 524.8,521.5" />
<path class="l" d="M507.6,484.9 C507.3,486.5 507.6,488 509,489.5" />
<path class="l" d="M511.8,483 L529.5,492.3" />
<path class="l" d="M526.7,514.3 L560.3,531.1 M542.6,531.1 L563.9,542.7" />
<path class="l" d="M527.5,515 L527.8,524 M529.3,516 L529.6,524.5" style="stroke-width:1"/>
<path class="w" d="M528.5,497 C528,494.5 529.5,492 531.5,491.9 L546,498.5 C548.5,500 548.5,503.5 546.5,505 L544,505.9 L530.5,499.5 Z" />
<path class="l" d="M532,495 L543,500.3 C544.2,501.2 543.8,502.4 542.5,502 L531.8,497 C530.8,496.2 531,495 532,495 Z" />
<path class="w" d="M523,527.5 C523,525.5 524.5,524.2 526,524.5 L537.5,530 C539.5,531 539.3,534 537.5,534.8 L535.5,534.8 L524.5,529.6 Z" />
<path class="l" d="M526.8,527 L535,531 C536,531.8 535.5,532.8 534.5,532.4 L526.3,528.6 C525.5,528 525.8,526.8 526.8,527 Z" />
<path class="l" d="M593.3,504.1 C596,503.5 598.5,503.4 600.3,503.7 C602.5,504.5 604.2,505.3 605.5,506.3 C607.5,508.3 608.5,510.3 608.9,512.3 C609.6,516 609.8,519 609.8,522.7" />
<path class="l" d="M589.9,508 L595.9,505.4 C598,505.3 600,505.5 602,506.3 C604,507.5 605.5,509 606.3,510.6 C607.2,514 607.5,517.5 607.6,521" />
<path class="l" d="M592.5,506.3 L565.6,521 C563.5,522 562.2,523 561.7,524.5 C560.8,526.5 560.3,528.5 560.4,530.5 C560.6,532.5 561,534 562.1,534.9 C563.3,535.7 564.5,535.8 565.6,535.7 C566.8,533.5 567.2,532 568.2,531.4 C569.5,530.5 570.5,529.8 571.7,529.7 C572.8,530 573.2,530.6 573.4,531.4 L573.4,543.5" />
<path class="l" d="M591,508.8 L566.8,522.5 C564.8,523.6 563.6,525 563.3,527 C563,529 563.2,531 563.8,532.5 M565.8,533.5 C566.6,531 567.5,529.5 569,528.5 C570.5,527.6 572,527.5 573.5,527.8 C575,528.8 575.5,530 575.6,531.5 L575.6,542" />
<path class="w" d="M585,523 C585,521.5 586.5,520.8 588,520.8 L600.5,521.5 C605,522 609,523.8 610.2,526 C610.8,528 610.7,533 610.5,537.5 C610.3,541.5 609,544.5 605.5,545.5 L600,546.2 L588,546 C586.5,545.8 585.5,545 585.3,543.5 Z" />
<path class="l" d="M585.3,523.5 C587.5,523.5 589,524.8 589.3,526.5 L589.5,530 M597.5,527 C598.5,528 599,530 599,533 M599,536.5 L599,540" />
<path class="l" d="M588,520.8 C590,521 591.2,522 591.5,523.5" />
<ellipse class="w" cx="591" cy="534.2" rx="3.4" ry="3.9" />
<path class="l" d="M590,531.5 C591.5,531.5 592.5,533 592.3,535" />
<path class="w" d="M586.5,512 C586,510.8 587,510.5 588,510.8 L600.5,515.5 C601.8,516.2 601.8,518.5 600.6,519.6 L599.5,520.6 L587.5,516.2 C586.5,515.7 586.3,513.5 586.5,512 Z" />
<path class="l" d="M589,512.5 L598,516" />
<path class="w" d="M586.5,544.5 C586,543 587,542 588.5,542.2 L603,546.5 C605,547.5 605,550.5 603,551.3 L601.5,551.5 L588,547.5 C587,547 586.6,546 586.5,544.5 Z" />
<path class="l" d="M589.5,544 L600,547.5" />
<path class="l" d="M589.9,537.5 L552.6,557.4 M590.7,547 L563,561.7 C561,562.5 560.8,560 561.3,558.5 M561.3,558.5 C562,556.5 563,555.5 564.5,554.8 L589.5,541.5" style="stroke-width:1.2"/>
<path class="l" d="M563.5,561.4 C564.5,560.5 565,559 565.5,557.8" />
</g>
<g id="cap9">
<path class="w" d="M617.5,513.5 L639.5,500.5 C643,499 647,500 649,503 C650.5,506 649.5,510 646.5,512 L626,524 C622,526 618,524.5 616.7,521 C615.8,518.5 615.8,515.5 617.5,513.5 Z" />
<path class="l" d="M617.5,513.5 C620.5,511.5 625,513 626.5,516.5 C628,520 627.8,522.8 626,524" />
<ellipse class="l" cx="621.8" cy="518.5" rx="2.4" ry="3.4" transform="rotate(-30 621.8 518.5)" />
<path class="l" d="M603,524 L608,521.5 M608,521.5 L614,518" style="stroke-width:1.1"/>
</g>
<g id="p15">
<path class="w" d="M395.3,704 C393.5,706 393.8,716 394.5,718 C396,722.5 402,724.5 408.4,724.5 C415,724.5 421.5,722.5 422.8,718 C423.5,716 423.5,706 421.5,704 C420,702.5 417.5,701.5 415.5,701.2 L415.3,697.5 L401.5,697.5 L401.3,701.2 C398.5,701.8 396.5,702.8 395.3,704 Z" />
<path class="l" d="M395.3,704 C396.5,708.5 401,709.5 408.4,709.6 C415,709.6 420.5,708.5 421.5,704" />
<path class="l" d="M397.6,713.5 C402,715.5 413,715.5 419,713.5" />
<path class="l" d="M394.5,718 C398,720.8 404,721.5 408.4,721.5 C413,721.5 419,720.8 422.8,718" style="stroke-width:1.1"/>
<path class="l" d="M401.3,701.2 C403,703 413.5,703 415.5,701.2 M404.5,703.5 C406.5,704.3 410.5,704.3 412.5,703.5" />
<path class="w" d="M398.4,690.5 C398,686 402.5,684.4 408.3,684.4 C414.5,684.4 419.5,686 419.3,690.8 C419.3,695.5 414.5,697.5 408.3,697.5 C402.5,697.5 398.4,695 398.4,690.5 Z" />
<path class="l" d="M404.5,686.5 C403,687 402.8,690.5 404.5,691.5 C406.5,692.8 411,692.8 412.8,691.2 M400.5,693 C404,695 413,695.5 417.5,693" />
</g>
<g id="p16">
<path class="w" d="M386.8,746 C386.3,740 394,732.2 409.2,732.2 C424,732.2 431.6,739 431.6,745 L430.5,749 C431.8,751 431.6,753.5 431,755 C429,760 421,763.6 409.2,763.6 C397,763.6 389,760 387.4,755 C386.8,753 386.8,751 388,749 Z" />
<path class="l" d="M387.4,747 C390,752 398,755.5 409,755.5 C420,755.5 428.5,752 431,747" />
<path class="l" d="M388,749 C392,754.5 400,757.3 409,757.3 C419,757.3 427,754.5 430.5,749.2" style="stroke-width:1.5"/>
<path class="l" d="M388.6,752 C392,757 400,759.4 409,759.4 C419,759.4 427,757 430.8,752.2" />
<ellipse class="w" cx="409.2" cy="740.2" rx="9.6" ry="5.2" />
<path class="l" d="M400.5,741.5 C402,745 416,745.5 418,741.5 M401.8,738 C405,736 414,736 416.6,738" />
</g>
<g id="p13">
<path class="w" d="M403.9,864.5 L404,873.5 C404.5,877 408,878 411,877.8 C414.5,877.6 417.5,876.5 417.9,873.5 L417.9,864.5" />
<path class="l" d="M404.2,867.5 C407,869.0 414,869.0 417.7,867.5" style="stroke-width:1.1"/>
<path class="l" d="M404.2,870.5 C407,872.0 414,872.0 417.7,870.5" style="stroke-width:1.1"/>
<path class="l" d="M404.2,873.5 C407,875.0 414,875.0 417.7,873.5" style="stroke-width:1.1"/>
<path class="w" d="M398.5,855 C398.2,852.5 401,851.5 401,851.5 L419.5,851.5 C421,852 421.5,853 421.2,855 L421,860.8 C420,864 414,865 410,865 C405,865 399.5,864 398.7,860.8 Z" />
<path class="l" d="M398.6,856 C400,859 405,860 410,860 C415,860 420,859 421,856" />
<path class="w" d="M400.1,782.4 L400.1,851.5 L419.4,851.5 L419.4,782.4" />
<path class="w" d="M399.4,789.0999999999999 C398.4,791.3 398.8,793.3 400.1,793.5999999999999 C404,795.3 415,795.3 419.4,793.5999999999999 C420.6,793.3 421,791.3 420.1,789.0999999999999 C416,791.0 403.5,791.0 399.4,789.0999999999999 Z" />
<path class="w" d="M399.4,800.8 C398.4,803 398.8,805 400.1,805.3 C404,807 415,807 419.4,805.3 C420.6,805 421,803 420.1,800.8 C416,802.7 403.5,802.7 399.4,800.8 Z" />
<path class="w" d="M399.4,812.1999999999999 C398.4,814.4 398.8,816.4 400.1,816.6999999999999 C404,818.4 415,818.4 419.4,816.6999999999999 C420.6,816.4 421,814.4 420.1,812.1999999999999 C416,814.1 403.5,814.1 399.4,812.1999999999999 Z" />
<path class="w" d="M399.2,829.5 L399.8,840.8 L410,844.3 L420.2,840.8 L420.7,829.5 C417,828.2 414,828 410,828 C405.5,828 402,828.2 399.2,829.5 Z" />
<path class="l" d="M399.4,830.5 L410,834.2 L420.5,830.5 M410,834.2 L410,843.8" />
<path class="w" d="M397.6,775.5 C397.3,770 402,767.6 409.2,767.6 C416,767.6 421.2,770 421.2,775.5 C421.2,780 416.5,782.4 409.2,782.4 C402,782.4 397.6,780 397.6,775.5 Z" />
<path class="l" d="M398,776.5 C400,779 404.5,780 409.2,780 C414,780 418.8,779 420.8,776.5" />
<path class="l" d="M406,770.5 C404,771.5 404,775 406.5,775.8 C408.5,776.5 411.5,776.3 413,775.3 M410.5,770 C411.5,770 412.8,770.5 413,771.3" />
</g>
<g id="p14">
<path class="w" d="M393.4,888.5 C393.4,884 400,880.4 408.8,880.4 C417.5,880.4 424.4,884 424.4,888.5 L424,922.8 C423.8,925 422.8,926.5 421.1,927.5 L421.1,938.3 C419,942 414,944.5 409.1,944.5 C403.5,944.5 398.5,942 396.6,938.3 L396.6,927.5 C394.8,926.3 393.8,924.8 393.6,922.8 Z" />
<path class="l" d="M398,894 C402,896.3 406,897.2 409.8,897.2 C414,897.2 418.5,895.5 422,892.5" />
<ellipse class="l" cx="409.3" cy="887.7" rx="7.6" ry="4.8" />
<path class="l" d="M403.6,889.8 C405,891.5 407,892 409.6,892 C412,892 414.5,891.5 415.6,889.8 C414.5,887.6 412,887 409.6,887 C407,887 404.8,887.8 403.6,889.8 Z" />
<path class="l" d="M396.6,927.5 C398.5,929 401.2,929.8 403.8,930 M415.2,929.2 C417.6,928.8 419.6,928.2 421.1,927.5" />
</g>
<g id="fwd">
<path class="b" d="M71.3,890.9 L77.9,879.3 L79.7,880.7 L99.8,872.3 L100.7,873 L100.7,884.9 L79.7,894.2 L79.3,897.5 Z" style="stroke-width:0.8"/>
<path class="l" d="M78.8,881 L99.5,872.8" style="stroke:#fff;stroke-width:0.6;fill:none"/>
<path class="l" d="M73,889.6 L78.4,880.4" style="stroke:#fff;stroke-width:0.5;fill:none"/>
<text x="0" y="0" font-family="Liberation Sans" font-weight="bold" font-size="13.2" fill="#fff" transform="translate(79.8 892.4) skewY(-21) skewX(-7) scale(0.6 1)" letter-spacing="0.8">FWD</text>
</g>
<path class="l" d="M675.2,889.4 C677.5,889 680.5,888.6 683.2,887.2" style="stroke-width:1.2"/>
<g class="ld">
<path d="M128,69.4 L147.5,69.4"/>
<path d="M65.6,109 L76,109 M93,109 L107,109"/>
<path d="M65.6,109 L65.6,302 L79,302 M94.4,302 L117.5,302"/>
<path d="M90,151.3 L106,151.3"/>
<path d="M46.4,203.6 L65.6,203.6"/>
<path d="M65.6,232 L122,232"/>
<path d="M212,244 L243,244"/>
<path d="M534.4,435.2 L534.4,466.4"/>
<path d="M630.4,525.2 L630.4,560"/>
<path d="M524.8,580.8 L524.8,606.4"/>
<path d="M117.7,462 L117.7,489.8"/>
<path d="M123,627.2 L146.5,627.2"/>
<path d="M296.7,718.2 L321.2,718.2"/>
<path d="M61.3,738 L87.3,738"/>
<path d="M184,770 L184,805"/>
<path d="M422.8,707.9 L459.6,707.9"/>
<path d="M431.6,746.5 L459.6,746.5"/>
<path d="M419.4,805.7 L460.8,805.7"/>
<path d="M424.4,903.7 L460.8,903.7"/>
</g>
<g class="t"><text x="114.00" y="73.8">5</text><text x="78.00" y="113.8">4</text><text x="77.50" y="155.5">2</text><path d="M33.20,199.80 L36.80,197.60 L36.80,207.20" style="fill:none;stroke:#000;stroke-width:1.55;stroke-linejoin:bevel;stroke-linecap:butt"/><text x="79.50" y="307">3</text><text x="244.30" y="249.6">6</text><text x="529.00" y="431.8">7</text><text x="626.30" y="572.2">9</text><path d="M517.20,611.20 L520.80,609.00 L520.80,618.60" style="fill:none;stroke:#000;stroke-width:1.55;stroke-linejoin:bevel;stroke-linecap:butt"/><path d="M524.98,611.20 L528.58,609.00 L528.58,618.60" style="fill:none;stroke:#000;stroke-width:1.55;stroke-linejoin:bevel;stroke-linecap:butt"/><path d="M110.20,452.30 L113.80,450.10 L113.80,459.70" style="fill:none;stroke:#000;stroke-width:1.55;stroke-linejoin:bevel;stroke-linecap:butt"/><text x="116.78" y="459.7">7</text><path d="M103.00,624.80 L106.60,622.60 L106.60,632.20" style="fill:none;stroke:#000;stroke-width:1.55;stroke-linejoin:bevel;stroke-linecap:butt"/><path d="M110.78,624.80 L114.38,622.60 L114.38,632.20" style="fill:none;stroke:#000;stroke-width:1.55;stroke-linejoin:bevel;stroke-linecap:butt"/><path d="M325.70,716.90 L329.30,714.70 L329.30,724.30" style="fill:none;stroke:#000;stroke-width:1.55;stroke-linejoin:bevel;stroke-linecap:butt"/><text x="332.28" y="724.3">2</text><path d="M41.20,735.50 L44.80,733.30 L44.80,742.90" style="fill:none;stroke:#000;stroke-width:1.55;stroke-linejoin:bevel;stroke-linecap:butt"/><text x="47.78" y="742.9">0</text><text x="180.50" y="819.2">8</text><path d="M463.00,705.20 L466.60,703.00 L466.60,712.60" style="fill:none;stroke:#000;stroke-width:1.55;stroke-linejoin:bevel;stroke-linecap:butt"/><text x="469.58" y="712.6">5</text><path d="M463.00,744.40 L466.60,742.20 L466.60,751.80" style="fill:none;stroke:#000;stroke-width:1.55;stroke-linejoin:bevel;stroke-linecap:butt"/><text x="469.58" y="751.8">6</text><path d="M463.70,805.10 L467.30,802.90 L467.30,812.50" style="fill:none;stroke:#000;stroke-width:1.55;stroke-linejoin:bevel;stroke-linecap:butt"/><text x="470.28" y="812.5">3</text><path d="M463.70,902.10 L467.30,899.90 L467.30,909.50" style="fill:none;stroke:#000;stroke-width:1.55;stroke-linejoin:bevel;stroke-linecap:butt"/><text x="470.28" y="909.5">4</text></g>
<g font-family="Liberation Sans" font-weight="bold" font-size="20.8" style="stroke:#000;stroke-width:0.6"><text transform="translate(85.6 56.2) scale(0.77 1)">F</text><text transform="translate(94.8 56.2) scale(1.2 1)">I</text><text transform="translate(102.1 56.2) scale(1.12 1)">G</text><text transform="translate(119.6 56.2) scale(1.18 1.18)">.</text><text transform="translate(128.8 56.2) scale(1.28 1)">2</text><text transform="translate(141.7 56.2) scale(1.18 1)">7</text></g>
<text x="300" y="1025.7" font-family="Liberation Sans" font-size="14" style="stroke:#222;stroke-width:0.3" transform="translate(300 0) scale(0.78 1) translate(-300 0)">Rendered by LeadVenture, Inc.</text>
</svg>
</body></html>
